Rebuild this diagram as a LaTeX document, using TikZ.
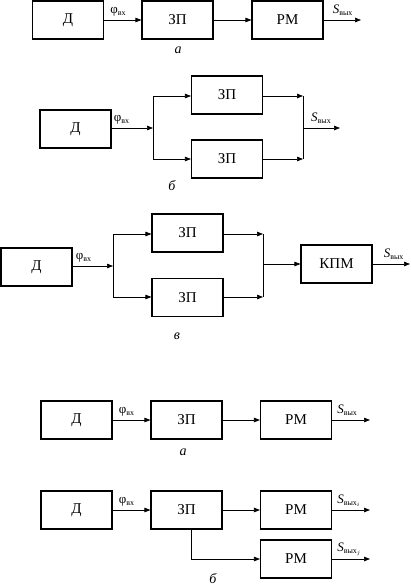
\documentclass[tikz,border=0pt]{standalone}
\usepackage{fontspec}
\setmainfont{Liberation Serif}
\usetikzlibrary{arrows.meta}
\newcommand{\phin}{{\fontsize{13}{13}\selectfont φ}{\fontsize{8}{8}\selectfont\raisebox{-2pt}{вх}}}
\newcommand{\soutlbl}[1][]{{\fontsize{13}{13}\selectfont\itshape S}{\fontsize{8}{8}\selectfont\raisebox{-2pt}{вых$_{#1}$}}}
\begin{document}
\begin{tikzpicture}[x=1pt,y=-1pt,
  blk/.style={draw,line width=1.1pt,minimum width=71pt,minimum height=38pt,inner sep=0pt,font=\fontsize{15}{15}\selectfont},
  conn/.style={line width=0.7pt,-{Triangle[length=6pt,width=4.5pt]}},
  wire/.style={line width=0.7pt},
  lbl/.style={inner sep=0pt,anchor=south west},
  captxt/.style={inner sep=0pt,font=\fontsize{14}{14}\selectfont\itshape}]
\useasboundingbox (0,0) rectangle (410,588);
% ---- a (top)
\node[blk] (d1) at (68,20) {Д};
\node[blk] (z1) at (177.5,20) {ЗП};
\node[blk] (r1) at (287.5,20) {РМ};
\coordinate (o1) at (361,20);
\draw[conn] (d1) -- (z1);
\draw[conn] (z1) -- (r1);
\draw[conn] (r1) -- (o1);
\node[lbl] (p1) at ([xshift=6pt,yshift=4pt]d1.east) {\phin};
\node[lbl] (s1) at ([xshift=9pt,yshift=3pt]r1.east) {\soutlbl};
\node[captxt] (c1) at (178,50) {а};
% ---- b
\node[blk] (d2) at (75.5,129) {Д};
\node[blk] (z2a) at (227,95) {ЗП};
\node[blk] (z2b) at (227,159) {ЗП};
\coordinate (j2) at (153,128);
\coordinate (j2a) at (153,96);
\coordinate (j2b) at (153,159);
\coordinate (k2a) at (303,96);
\coordinate (k2b) at (303,159);
\coordinate (k2) at (303,128);
\coordinate (o2) at (340,128);
\draw[conn] (d2.east |- j2) -- (j2);
\draw[wire] (j2a) -- (j2b);
\draw[conn] (j2a) -- (z2a.west |- j2a);
\draw[conn] (j2b) -- (z2b.west |- j2b);
\draw[conn] (z2a.east |- k2a) -- (k2a);
\draw[conn] (z2b.east |- k2b) -- (k2b);
\draw[wire] (k2a) -- (k2b);
\draw[conn] (k2) -- (o2);
\node[lbl] (p2) at ([xshift=2pt,yshift=4pt]d2.east |- j2) {\phin};
\node[lbl] (s2) at ([xshift=8pt,yshift=3pt]k2) {\soutlbl};
\node[captxt] (c2) at (172,186) {б};
% ---- v
\node[blk] (d3) at (36.5,267) {Д};
\node[blk] (z3a) at (187.5,233) {ЗП};
\node[blk] (z3b) at (187.5,297.5) {ЗП};
\node[blk] (k3) at (336.5,264) {КПМ};
\coordinate (j3) at (113,266);
\coordinate (j3a) at (113,234);
\coordinate (j3b) at (113,297);
\coordinate (m3a) at (263,234);
\coordinate (m3b) at (263,297);
\coordinate (m3) at (263,264);
\coordinate (o3) at (410,264);
\draw[conn] (d3.east |- j3) -- (j3);
\draw[wire] (j3a) -- (j3b);
\draw[conn] (j3a) -- (z3a.west |- j3a);
\draw[conn] (j3b) -- (z3b.west |- j3b);
\draw[conn] (z3a.east |- m3a) -- (m3a);
\draw[conn] (z3b.east |- m3b) -- (m3b);
\draw[wire] (m3a) -- (m3b);
\draw[conn] (m3) -- (k3);
\draw[conn] (k3) -- (o3);
\node[lbl] (p3) at ([xshift=3pt,yshift=4pt]d3.east |- j3) {\phin};
\node[lbl] (s3) at ([xshift=11pt,yshift=3pt]k3.east) {\soutlbl};
\node[captxt] (c3) at (177,336) {в};
% ---- a (lower)
\node[blk] (d4) at (76.5,420) {Д};
\node[blk] (z4) at (186.5,420) {ЗП};
\node[blk] (r4) at (296,420) {РМ};
\coordinate (o4) at (370,420);
\draw[conn] (d4) -- (z4);
\draw[conn] (z4) -- (r4);
\draw[conn] (r4) -- (o4);
\node[lbl] (p4) at ([xshift=6pt,yshift=4pt]d4.east) {\phin};
\node[lbl] (s4) at ([xshift=5pt,yshift=3pt]r4.east) {\soutlbl};
\node[captxt] (c4) at (183,452) {а};
% ---- b (lower)
\node[blk] (d5) at (76.5,510) {Д};
\node[blk] (z5) at (186.5,510) {ЗП};
\node[blk] (r5a) at (296,510) {РМ};
\node[blk] (r5b) at (296,559) {РМ};
\coordinate (b5) at (191,559);
\coordinate (o5a) at (370,510);
\coordinate (o5b) at (370,559);
\draw[conn] (d5) -- (z5);
\draw[conn] (z5) -- (r5a);
\draw[conn] (z5.south -| b5) -- (b5) -- (r5b);
\draw[conn] (r5a) -- (o5a);
\draw[conn] (r5b) -- (o5b);
\node[lbl] (p5) at ([xshift=6pt,yshift=4pt]d5.east) {\phin};
\node[lbl] (s5a) at ([xshift=5pt,yshift=3pt]r5a.east) {\soutlbl[i]};
\node[lbl] (s5b) at ([xshift=5pt,yshift=3pt]r5b.east) {\soutlbl[j]};
\node[captxt] (c5) at (213,579) {б};
\end{tikzpicture}
\end{document}
